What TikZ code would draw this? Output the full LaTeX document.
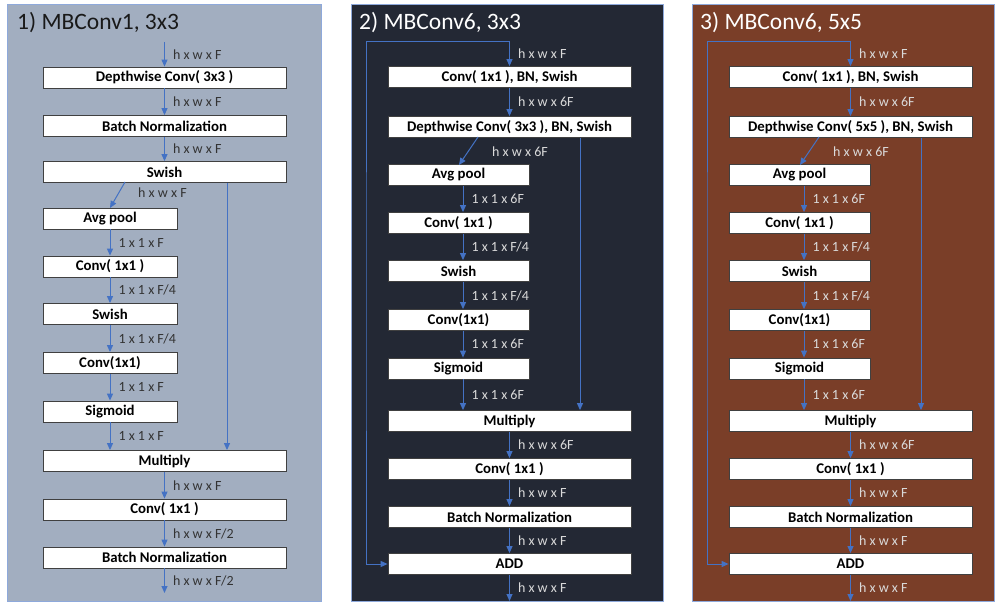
\documentclass[tikz,border=0pt]{standalone}
\usepackage{fontspec}
\setmainfont{Carlito}
\usetikzlibrary{arrows.meta}
\definecolor{arrowblue}{HTML}{4472C4}
\definecolor{panelone}{HTML}{A2AEC0}
\definecolor{paneltwo}{HTML}{232834}
\definecolor{panelthree}{HTML}{7A3E28}
\definecolor{panelborder}{HTML}{8EA9DB}
\definecolor{labdark}{HTML}{333333}
\definecolor{lablight}{HTML}{DADADA}
\newcommand\mbsix[3]{%
  \node[ttl, text=white] (#1t) at (359,23) {#3};
  \coordinate (#1top) at (509.5,42);
  \coordinate (#1ax) at (463,0);
  \coordinate (#1sx) at (580,0);
  \coordinate (#1lp) at (366,300);
  \coordinate (#1ds) at (478,137);
  \coordinate (#1dt) at (459,165);
  \coordinate (#1end) at (509.5,601);
  \node[bigbox] (#1a) at (509.5,77) {Conv( 1x1 ), BN, Swish};
  \node[bigbox] (#1b) at (509.5,127) {Depthwise Conv( #2 ), BN, Swish};
  \node[smallsix] (#1c) at (458.5,175) {Avg pool};
  \node[smallsix] (#1d) at (458.5,223) {Conv( 1x1 )};
  \node[smallsix] (#1e) at (458.5,271) {Swish};
  \node[smallsix] (#1f) at (458.5,320) {Conv(1x1)};
  \node[smallsix] (#1g) at (458.5,368.5) {Sigmoid};
  \node[bigbox] (#1h) at (509.5,421) {Multiply};
  \node[bigbox] (#1i) at (509.5,469) {Conv( 1x1 )};
  \node[bigbox] (#1j) at (509.5,517) {Batch Normalization};
  \node[bigbox] (#1k) at (509.5,564) {ADD};
  \draw[arr] (#1top) -- node[lab, text=lablight] {h x w x F} (#1a.north);
  \draw[arr] (#1top) -| (#1lp) |- (#1k.west);
  \draw[arr] (#1a.south) -- node[lab, text=lablight] {h x w x 6F} (#1b.north);
  \draw[arr] (#1ds) -- (#1dt);
  \node[lab, text=lablight] (#1dl) at (484,152) {h x w x 6F};
  \draw[arr] (#1b.south -| #1sx) -- (#1h.north -| #1sx);
  \draw[arr] (#1c.south -| #1ax) -- node[lab, text=lablight] {1 x 1 x 6F} (#1d.north -| #1ax);
  \draw[arr] (#1d.south -| #1ax) -- node[lab, text=lablight] {1 x 1 x F/4} (#1e.north -| #1ax);
  \draw[arr] (#1e.south -| #1ax) -- node[lab, text=lablight] {1 x 1 x F/4} (#1f.north -| #1ax);
  \draw[arr] (#1f.south -| #1ax) -- node[lab, text=lablight] {1 x 1 x 6F} (#1g.north -| #1ax);
  \draw[arr] (#1g.south -| #1ax) -- node[lab, text=lablight] {1 x 1 x 6F} (#1h.north -| #1ax);
  \draw[arr] (#1h.south) -- node[lab, text=lablight] {h x w x 6F} (#1i.north);
  \draw[arr] (#1i.south) -- node[lab, text=lablight] {h x w x F} (#1j.north);
  \draw[arr] (#1j.south) -- node[lab, text=lablight] {h x w x F} (#1k.north);
  \draw[arr] (#1k.south) -- node[lab, text=lablight] {h x w x F} (#1end);
}
\begin{document}
\begin{tikzpicture}[x=1pt,y=-1pt,
  box/.style={draw=black!75, line width=0.8pt, fill=white, inner sep=0pt,
    font=\bfseries\fontsize{14.8}{15}\selectfont, text=black, minimum height=21pt},
  bigbox/.style={box, minimum width=243pt},
  smallone/.style={box, minimum width=134pt},
  smallsix/.style={box, minimum width=141pt},
  arr/.style={draw=arrowblue, line width=1pt, -{Triangle[length=7pt,width=6pt]}},
  lab/.style={font=\fontsize{14}{15}\selectfont, inner sep=0pt, anchor=west, xshift=8pt},
  ttl/.style={font=\fontsize{23.5}{25}\selectfont, inner sep=0pt, anchor=west},
  panel/.style={draw=panelborder, line width=1pt},
]
\useasboundingbox (0,0) rectangle (996,604);
\fill[white] (0,0) rectangle (996,604);
\draw[panel, fill=panelone] (7,5) rectangle (321,601);
\draw[panel, fill=paneltwo] (351,5) rectangle (663,601);
\draw[panel, fill=panelthree] (692,5) rectangle (994,601);

% Panel 1
\node[ttl, text=black!90] (p1t) at (17,23) {1) MBConv1, 3x3};
\coordinate (p1top) at (164.5,42);
\coordinate (p1ax) at (110,0);
\coordinate (p1sx) at (227,0);
\coordinate (p1ds) at (125,182);
\coordinate (p1dt) at (110,208);
\coordinate (p1end) at (164.5,593);
\node[bigbox] (p1a) at (164.5,77.5) {Depthwise Conv( 3x3 )};
\node[bigbox] (p1b) at (164.5,126) {Batch Normalization};
\node[bigbox] (p1c) at (164.5,172) {Swish};
\node[smallone] (p1d) at (110,218.5) {Avg pool};
\node[smallone] (p1e) at (110,266.5) {Conv( 1x1 )};
\node[smallone] (p1f) at (110,314) {Swish};
\node[smallone] (p1g) at (110,363) {Conv(1x1)};
\node[smallone] (p1h) at (110,411.5) {Sigmoid};
\node[bigbox] (p1i) at (164.5,461) {Multiply};
\node[bigbox] (p1j) at (164.5,509.5) {Conv( 1x1 )};
\node[bigbox] (p1k) at (164.5,557.5) {Batch Normalization};
\draw[arr] (p1top) -- node[lab, text=labdark] {h x w x F} (p1a.north);
\draw[arr] (p1a.south) -- node[lab, text=labdark] {h x w x F} (p1b.north);
\draw[arr] (p1b.south) -- node[lab, text=labdark] {h x w x F} (p1c.north);
\draw[arr] (p1ds) -- (p1dt);
\node[lab, text=labdark] (p1dl) at (130,193) {h x w x F};
\draw[arr] (p1c.south -| p1sx) -- (p1i.north -| p1sx);
\draw[arr] (p1d.south) -- node[lab, text=labdark] {1 x 1 x F} (p1e.north);
\draw[arr] (p1e.south) -- node[lab, text=labdark] {1 x 1 x F/4} (p1f.north);
\draw[arr] (p1f.south) -- node[lab, text=labdark] {1 x 1 x F/4} (p1g.north);
\draw[arr] (p1g.south) -- node[lab, text=labdark] {1 x 1 x F} (p1h.north);
\draw[arr] (p1h.south) -- node[lab, text=labdark] {1 x 1 x F} (p1i.north -| p1ax);
\draw[arr] (p1i.south) -- node[lab, text=labdark] {h x w x F} (p1j.north);
\draw[arr] (p1j.south) -- node[lab, text=labdark] {h x w x F/2} (p1k.north);
\draw[arr] (p1k.south) -- node[lab, text=labdark] {h x w x F/2} (p1end);

% Panel 2
\mbsix{p2}{3x3}{2) MBConv6, 3x3}

% Panel 3
\begin{scope}[shift={(341,0)}]
\mbsix{p3}{5x5}{3) MBConv6, 5x5}
\end{scope}
\end{tikzpicture}
\end{document}
